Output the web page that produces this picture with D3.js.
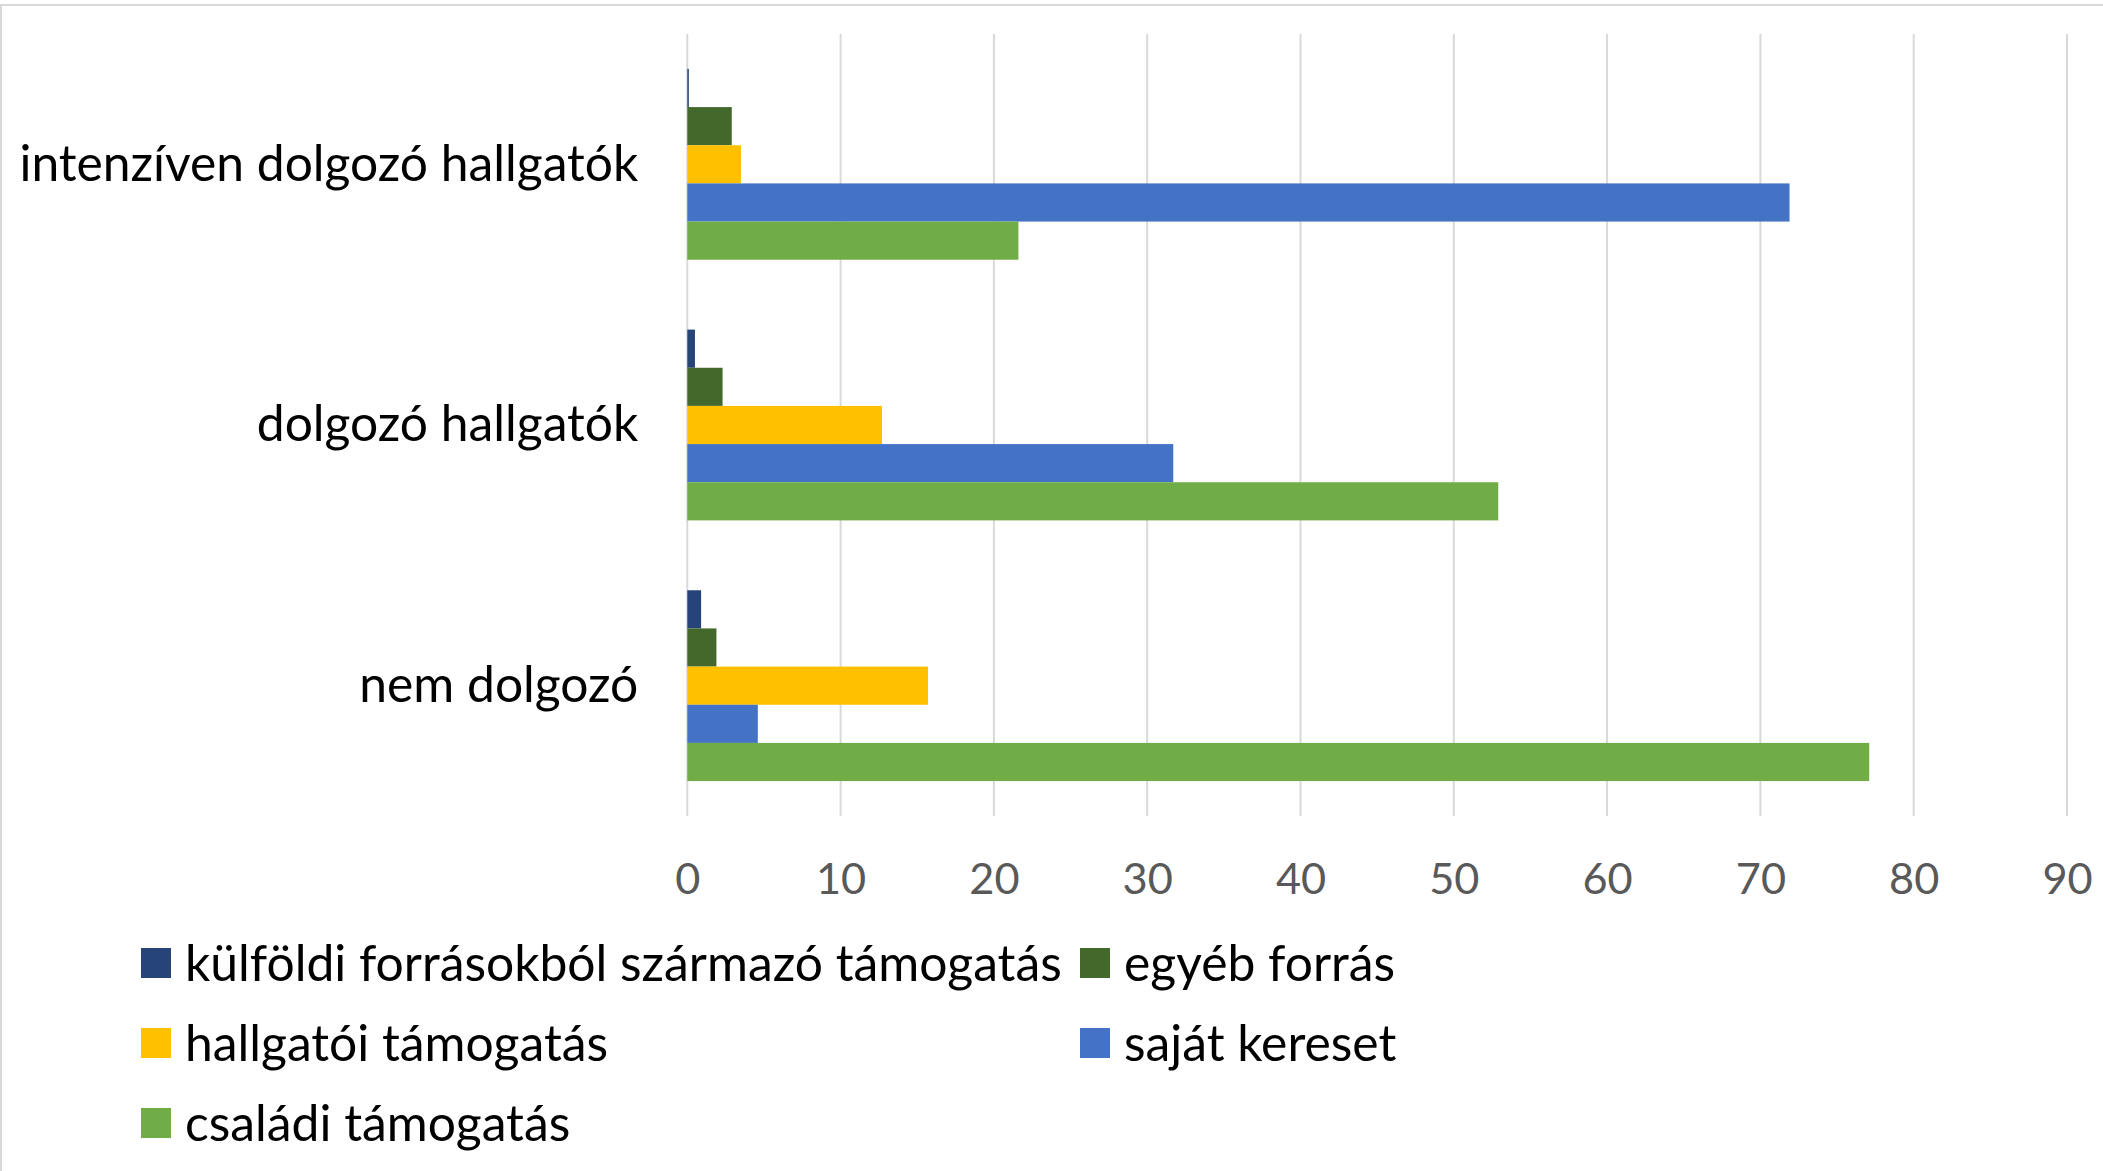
<!DOCTYPE html>
<html>
<head>
<meta charset="utf-8">
<script src="https://cdn.jsdelivr.net/npm/d3@7"></script>
<style>
  html, body { margin: 0; padding: 0; background: #ffffff; }
  svg { display: block; }
</style>
</head>
<body>
<svg id="chart" width="2103" height="1171"></svg>
<script>
// ---- DATA ----
const categories = ["intenzíven dolgozó hallgatók", "dolgozó hallgatók", "nem dolgozó"];
const seriesNames = [
  "külföldi forrásokból származó támogatás",
  "egyéb forrás",
  "hallgatói támogatás",
  "saját kereset",
  "családi támogatás"
];
const kulfoldi  = [0.1, 0.5, 0.9];
const egyeb     = [2.9, 2.3, 1.9];
const hallgatoi = [3.5, 12.7, 15.7];
const sajat     = [71.9, 31.7, 4.6];
const csaladi   = [21.6, 52.9, 77.1];
const seriesValues = [kulfoldi, egyeb, hallgatoi, sajat, csaladi];
const seriesColors = ["#264478", "#43682B", "#FFC000", "#4472C4", "#70AD47"];
const xTicks = [0, 10, 20, 30, 40, 50, 60, 70, 80, 90];

// ---- LAYOUT ----
const svg = d3.select("#chart");
const FONT = "Lato, 'Open Sans', sans-serif";
const plot = { left: 687.3, right: 687.3 + 90 * 15.33, top: 34, bottom: 816 };

// fit font size of a string to a target width
function fitSize(text, targetWidth) {
  const t = svg.append("text").attr("font-family", FONT).attr("font-size", 100).text(text);
  const w = t.node().getComputedTextLength();
  t.remove();
  return 100 * targetWidth / w;
}
const catSize = fitSize(categories[0], 619);
const legSize = fitSize(seriesNames[0], 877);
const tickSize = catSize * 0.87;

// frame
svg.append("rect").attr("x", 1).attr("y", 5).attr("width", 2300).attr("height", 1400)
  .attr("fill", "none").attr("stroke", "#d9d9d9").attr("stroke-width", 2);

const x = d3.scaleLinear().domain([0, 90]).range([plot.left, plot.right]);
const y = d3.scaleBand().domain(categories).range([plot.top, plot.bottom])
  .paddingInner(0.268).paddingOuter(0.134);
const ySub = d3.scaleBand().domain(seriesNames).range([0, y.bandwidth()]);

// gridlines
svg.append("g").selectAll("line").data(xTicks).join("line")
  .attr("x1", d => x(d)).attr("x2", d => x(d))
  .attr("y1", plot.top).attr("y2", plot.bottom)
  .attr("stroke", "#d9d9d9").attr("stroke-width", 2);

// bars
const groups = svg.append("g").selectAll("g").data(categories).join("g")
  .attr("transform", d => `translate(0,${y(d)})`);
groups.selectAll("rect")
  .data((c, ci) => seriesNames.map((s, si) => ({ s, v: seriesValues[si][ci], color: seriesColors[si] })))
  .join("rect")
  .attr("x", x(0))
  .attr("y", d => ySub(d.s))
  .attr("width", d => x(d.v) - x(0))
  .attr("height", ySub.bandwidth())
  .attr("fill", d => d.color);

// x axis tick labels
const xAxis = d3.axisBottom(x).tickValues(xTicks).tickSize(0).tickPadding(0);
const gx = svg.append("g").attr("transform", `translate(0,${plot.bottom})`).call(xAxis);
gx.select(".domain").remove();
gx.selectAll("text")
  .attr("font-family", FONT).attr("font-size", tickSize).attr("fill", "#595959")
  .attr("dy", null).attr("y", 78);

// category labels
const yAxis = d3.axisLeft(y).tickSize(0).tickPadding(49);
const gy = svg.append("g").attr("transform", `translate(${plot.left},0)`).call(yAxis);
gy.select(".domain").remove();
gy.selectAll("text")
  .attr("font-family", FONT).attr("font-size", catSize).attr("fill", "#000000")
  .attr("dy", null).attr("y", catSize * 0.33);

// legend
const legendPos = [
  { x: 141, y: 963 }, { x: 1080, y: 963 },
  { x: 141, y: 1043 }, { x: 1080, y: 1043 },
  { x: 141, y: 1123 }
];
const leg = svg.append("g").selectAll("g").data(seriesNames).join("g")
  .attr("transform", (d, i) => `translate(${legendPos[i].x},${legendPos[i].y})`);
leg.append("rect").attr("x", 0).attr("y", -15).attr("width", 30).attr("height", 30)
  .attr("fill", (d, i) => seriesColors[i]);
leg.append("text").attr("x", 44).attr("y", legSize * 0.36)
  .attr("font-family", FONT).attr("font-size", legSize).attr("fill", "#000000")
  .text(d => d);
</script>
</body>
</html>
